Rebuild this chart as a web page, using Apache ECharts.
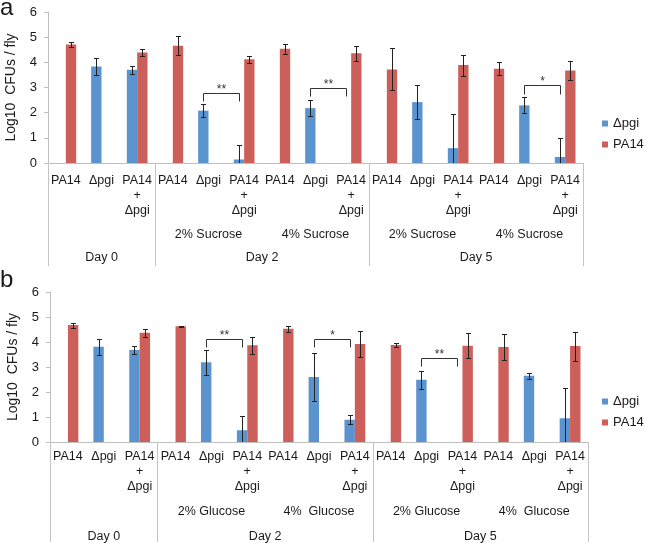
<!DOCTYPE html>
<html>
<head>
<meta charset="utf-8">
<script src="https://cdn.jsdelivr.net/npm/echarts@6/dist/echarts.min.js"></script>
<style>
  html, body { margin: 0; padding: 0; background: #fff; }
  #chart { width: 645px; height: 543px; }
</style>
</head>
<body>
<div id="chart"></div>
<script>
// x axis, three levels
const strains = ['PA14', 'Δpgi', 'PA14\n+\nΔpgi'];
const categories = [].concat(strains, strains, strains, strains, strains);
const sugarsA = ['', '2% Sucrose', '4% Sucrose', '2% Sucrose', '4% Sucrose'];
const sugarsB = ['', '2% Glucose', '4%  Glucose', '2% Glucose', '4%  Glucose'];
const days = ['Day 0', 'Day 2', 'Day 5'];
const daySpans = [3, 6, 6];

// panel a - sucrose
const pgiA     = [null, 3.83, 3.71, null, 2.08, 0.14, null, 2.18, null, null, 2.42, 0.59, null, 2.29, 0.24];
const pgiAErr  = [null, 0.35, 0.16, null, 0.25, 0.57, null, 0.33, null, null, 0.67, 1.34, null, 0.32, 0.75];
const pa14A    = [4.71, null, 4.39, 4.66, null, 4.12, 4.54, null, 4.36, 3.72, null, 3.89, 3.75, null, 3.68];
const pa14AErr = [0.10, null, 0.14, 0.38, null, 0.15, 0.20, null, 0.30, 0.83, null, 0.42, 0.25, null, 0.37];
// significance: [from, to, level, tick end]
const sigA = [[4, 5, 2.78, 2.46], [7, 8, 2.97, 2.67], [13, 14, 3.08, 2.76]];
const sigAText = ['**', '**', '*'];

// panel b - glucose
const pgiB     = [null, 3.81, 3.68, null, 3.19, 0.47, null, 2.60, 0.89, null, 2.49, null, null, 2.65, 0.95];
const pgiBErr  = [null, 0.33, 0.16, null, 0.49, 0.57, null, 0.97, 0.18, null, 0.35, null, null, 0.12, 1.22];
const pa14B    = [4.68, null, 4.37, 4.63, null, 3.87, 4.53, null, 3.92, 3.88, null, 3.85, 3.80, null, 3.84];
const pa14BErr = [0.10, null, 0.15, 0.03, null, 0.33, 0.13, null, 0.53, 0.07, null, 0.50, 0.52, null, 0.58];
const sigB = [[4, 5, 4.12, 3.81], [7, 8, 4.12, 3.81], [10, 11, 3.36, 3.04]];
const sigBText = ['**', '*', '**'];

const colPgi = '#5b93cf';
const colPa = '#cd5f5a';
const textCol = '#1a1a1a';
const sepCol = '#c4c4c4';
const BAR = 0.29;

// day level uses half-category points so labels can sit between categories
const dayPoints = new Array(categories.length * 2 + 1).fill('');
const dayBounds = [0];
let start = 0;
days.forEach(function (d, i) {
  dayPoints[start * 2 + daySpans[i]] = d;
  start += daySpans[i];
  dayBounds.push(start * 2);
});

function toErr(vals, errs) {
  const out = [];
  vals.forEach(function (v, i) {
    if (v != null) out.push([i, v, errs[i]]);
  });
  return out;
}

function errorBars(side) {
  return function (params, api) {
    const band = api.size([1, 0])[0];
    const c = api.value(0), v = api.value(1), e = api.value(2);
    const x = Math.round(api.coord([c, v])[0] + side * band * BAR / 2) + 0.5;
    const hi = Math.round(api.coord([c, v + e])[1]) + 0.5;
    const lo = Math.round(api.coord([c, v - e])[1]) + 0.5;
    const style = { stroke: '#222', lineWidth: 1 };
    return {
      type: 'group',
      children: [
        { type: 'line', shape: { x1: x, y1: hi, x2: x, y2: lo }, style: style },
        { type: 'line', shape: { x1: x - 2.5, y1: hi, x2: x + 2.5, y2: hi }, style: style },
        { type: 'line', shape: { x1: x - 2.5, y1: lo, x2: x + 2.5, y2: lo }, style: style }
      ]
    };
  };
}

function brackets(labels) {
  return function (params, api) {
    const band = api.size([1, 0])[0];
    const x1 = Math.round(api.coord([api.value(0), 0])[0] - band * BAR / 2) + 0.5;
    const x2 = Math.round(api.coord([api.value(1), 0])[0] - band * BAR / 2) + 0.5;
    const yl = Math.round(api.coord([0, api.value(2)])[1]) + 0.5;
    const yd = Math.round(api.coord([0, api.value(3)])[1]) + 0.5;
    return {
      type: 'group',
      children: [
        { type: 'polyline', shape: { points: [[x1, yd], [x1, yl], [x2, yl], [x2, yd]] },
          style: { stroke: '#333', lineWidth: 1, fill: null } },
        { type: 'text', x: (x1 + x2) / 2, y: yl - 4,
          style: { text: labels[params.dataIndex], fontSize: 12, fill: '#333',
                   align: 'center', verticalAlign: 'middle' } }
      ]
    };
  };
}

const labelStyle = { fontSize: 12.5, color: textCol, lineHeight: 15, interval: 0 };

function panel(g, p) {
  const xAxis = [
    { gridIndex: g, type: 'category', position: 'bottom', data: categories,
      axisLine: { lineStyle: { color: '#bfbfbf' } },
      axisTick: { interval: 0, length: p.t1, lineStyle: { color: sepCol } },
      axisLabel: Object.assign({ margin: p.m1 }, labelStyle) },
    { gridIndex: g, type: 'category', position: 'bottom', data: p.sugars,
      axisLine: { show: false },
      axisTick: { interval: 0, length: p.t2, lineStyle: { color: sepCol } },
      axisLabel: Object.assign({ margin: p.m2 }, labelStyle) },
    { gridIndex: g, type: 'category', position: 'bottom', boundaryGap: false, data: dayPoints,
      axisLine: { show: false },
      axisTick: { interval: function (i) { return dayBounds.indexOf(i) >= 0; },
                  length: p.t3, lineStyle: { color: sepCol } },
      axisLabel: Object.assign({ margin: p.m3 }, labelStyle) }
  ];
  const yAxis = {
    gridIndex: g, type: 'value', min: 0, max: 6, interval: 1,
    name: 'Log10  CFUs / fly', nameLocation: 'middle', nameRotate: 90, nameGap: 30,
    nameMoveOverlap: false,
    nameTextStyle: { fontSize: 14, color: textCol },
    axisLine: { show: true, lineStyle: { color: '#bfbfbf' } },
    axisTick: { show: true, length: 4, lineStyle: { color: '#bfbfbf' } },
    axisLabel: { fontSize: 13, color: textCol, margin: 11 },
    splitLine: { show: false }
  };
  const xi = g * 3;
  const series = [
    { type: 'bar', name: 'Δpgi', xAxisIndex: xi, yAxisIndex: g, data: p.pgi,
      barWidth: (BAR * 100) + '%', barGap: '0%', itemStyle: { color: colPgi } },
    { type: 'bar', name: 'PA14', xAxisIndex: xi, yAxisIndex: g, data: p.pa14,
      barWidth: (BAR * 100) + '%', barGap: '0%', itemStyle: { color: colPa } },
    { type: 'custom', xAxisIndex: xi, yAxisIndex: g, data: toErr(p.pgi, p.pgiErr),
      encode: { x: 0, y: 1 }, renderItem: errorBars(-1), clip: true, silent: true, z: 3 },
    { type: 'custom', xAxisIndex: xi, yAxisIndex: g, data: toErr(p.pa14, p.pa14Err),
      encode: { x: 0, y: 1 }, renderItem: errorBars(1), clip: true, silent: true, z: 3 },
    { type: 'custom', xAxisIndex: xi, yAxisIndex: g, data: p.sig,
      encode: { x: [0, 1], y: [2, 3] }, renderItem: brackets(p.sigText), silent: true, z: 4 }
  ];
  return { xAxis: xAxis, yAxis: yAxis, series: series };
}

const pa = panel(0, { sugars: sugarsA, pgi: pgiA, pgiErr: pgiAErr, pa14: pa14A, pa14Err: pa14AErr,
  sig: sigA, sigText: sigAText, m1: 10, m2: 64, m3: 87, t1: 55, t2: 79, t3: 103 });
const pb = panel(1, { sugars: sugarsB, pgi: pgiB, pgiErr: pgiBErr, pa14: pa14B, pa14Err: pa14BErr,
  sig: sigB, sigText: sigBText, m1: 7, m2: 62, m3: 87, t1: 52, t2: 76, t3: 100 });

const legendBase = {
  data: ['Δpgi', 'PA14'], orient: 'vertical', left: 602, icon: 'rect',
  itemWidth: 6, itemHeight: 6, itemGap: 8, padding: 0,
  textStyle: { fontSize: 13, color: textCol }
};

const option = {
  backgroundColor: '#fff',
  animation: false,
  textStyle: { fontFamily: '"Liberation Sans", Arial, sans-serif' },
  title: [
    { text: 'a', left: 0, top: -4, padding: 0, textStyle: { fontSize: 24, fontWeight: 'normal', color: textCol } },
    { text: 'b', left: 0, top: 268, padding: 0, textStyle: { fontSize: 24, fontWeight: 'normal', color: textCol } }
  ],
  legend: [
    Object.assign({ top: 117 }, legendBase),
    Object.assign({ top: 395 }, legendBase)
  ],
  grid: [
    { left: 48, right: 62, top: 12, height: 151, outerBoundsMode: 'none' },
    { left: 50, right: 57, top: 292, height: 150, outerBoundsMode: 'none' }
  ],
  xAxis: pa.xAxis.concat(pb.xAxis),
  yAxis: [pa.yAxis, pb.yAxis],
  series: pa.series.concat(pb.series)
};

const chart = echarts.init(document.getElementById('chart'));
chart.setOption(option);
</script>
</body>
</html>
